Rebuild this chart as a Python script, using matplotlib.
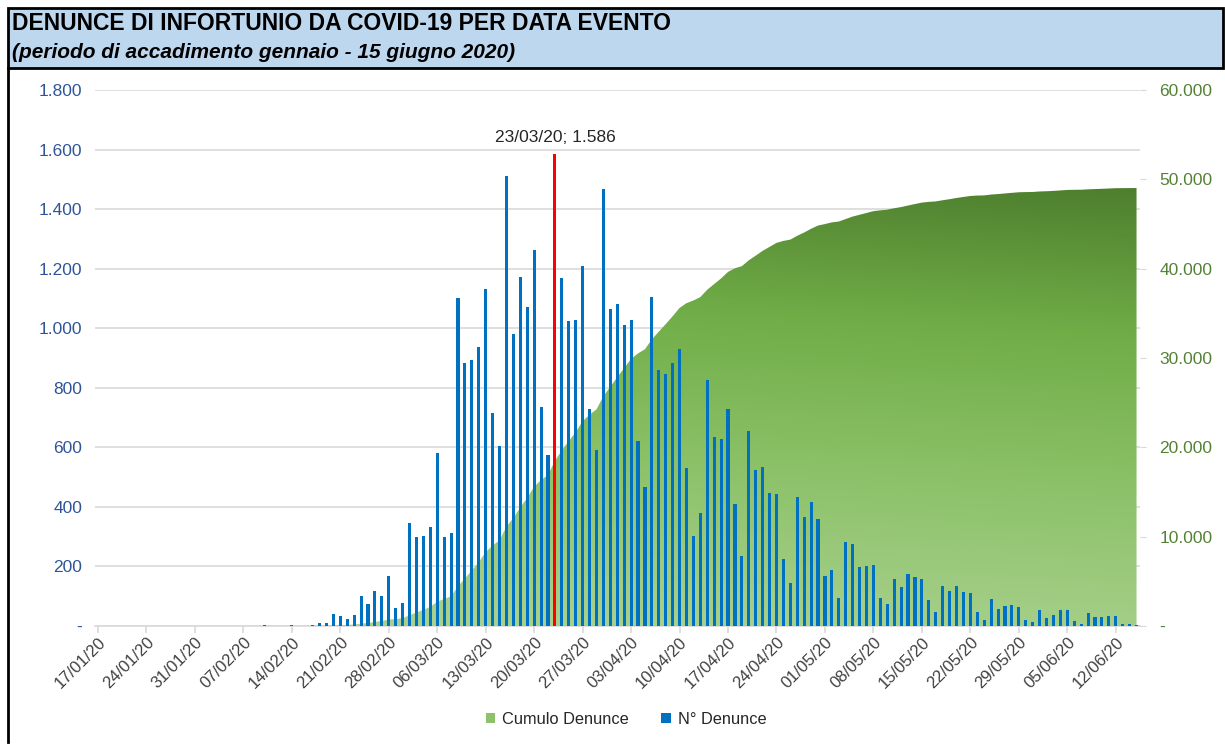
import numpy as np
import pandas as pd
import matplotlib
matplotlib.use("Agg")
import matplotlib.pyplot as plt
from matplotlib.patches import Rectangle, Patch
from matplotlib.lines import Line2D
from matplotlib.colors import LinearSegmentedColormap
from matplotlib.ticker import FuncFormatter, MultipleLocator

plt.rcParams['font.family'] = ['Liberation Sans', 'DejaVu Sans']

# daily reports, 17/01/20 .. 15/06/20
start_date = "2020-01-17"
n_denunce = [0] * 24 + [3, 0, 0, 0, 3, 0, 0,
    5, 10, 10, 40, 34, 23, 37, 101, 74, 118, 101, 168, 60, 77,
    346, 299, 302, 333, 581, 299, 313, 1101, 883, 893, 937, 1132, 715, 604,
    1511, 981, 1172, 1071, 1263, 735, 574, 1586, 1169, 1023, 1027, 1209, 729, 591,
    1467, 1064, 1081, 1011, 1027, 621, 467, 1105, 860, 846, 883, 930, 531, 302,
    379, 826, 635, 628, 729, 410, 235, 655, 524, 534, 447, 443, 225, 144,
    433, 366, 416, 359, 168, 188, 94, 282, 275, 198, 201, 205, 94, 74,
    158, 131, 175, 165, 158, 87, 47, 134, 118, 134, 114, 111, 47, 20,
    91, 57, 67, 70, 64, 20, 13, 54, 27, 37, 54, 54, 17, 7,
    44, 30, 30, 34, 34, 7, 7, 3]
peak_label = "23/03/20; 1.586"
peak_date = "2020-03-23"

dates = pd.date_range(start_date, periods=len(n_denunce), freq="D")
vals = np.array(n_denunce)
cumulo = np.cumsum(vals)
days = np.arange(len(vals))
peak_idx = int((pd.Timestamp(peak_date) - dates[0]).days)


def fmt_it(v, pos=None):
    if v == 0:
        return "-"
    return "{:,.0f}".format(v).replace(",", ".")


fig = plt.figure(figsize=(12.25, 7.46), dpi=100)
W, H = 1225, 746

# title band and frame
fig.patches.append(Rectangle((8 / W, 1 - 68 / H), 1215 / W, 60 / H, transform=fig.transFigure,
                             facecolor="#BDD7EE", edgecolor="black", linewidth=2))
fig.lines.append(Line2D([8 / W, 8 / W], [1 - 68 / H, 1 - 742 / H], transform=fig.transFigure,
                        color="black", linewidth=2))
fig.text(12 / W, 1 - 23 / H, "DENUNCE DI INFORTUNIO DA COVID-19 PER DATA EVENTO",
         fontsize=16.5, fontweight="bold", va="center", ha="left")
fig.text(12 / W, 1 - 52 / H, "(periodo di accadimento gennaio - 15 giugno 2020)",
         fontsize=15, fontweight="bold", style="italic", va="center", ha="left")

rect = [94.5 / W, 120 / H, (1140 - 94.5) / W, (626 - 90) / H]
ax = fig.add_axes(rect)
ax2 = ax.twinx()
axb = fig.add_axes(rect, sharex=ax, sharey=ax)
ax.set_zorder(0)
ax2.set_zorder(1)
axb.set_zorder(2)
for a in (ax, ax2, axb):
    a.patch.set_visible(False)
    for s in a.spines.values():
        s.set_visible(False)

xmin, xmax = -0.5, len(vals) - 0.5
ax.set_xlim(xmin, xmax)
ax.set_ylim(0, 1800)
ax2.set_ylim(0, 60000)

# gridlines and left axis
ax.yaxis.set_major_locator(MultipleLocator(200))
ax.yaxis.set_major_formatter(FuncFormatter(fmt_it))
ax.grid(axis="y", color="#D9D9D9", linewidth=1.2)
ax.tick_params(axis="y", length=0, labelsize=12.5, labelcolor="#2F5597", pad=9)
ax.spines["bottom"].set_visible(True)
ax.spines["bottom"].set_color("#D9D9D9")
ax.spines["bottom"].set_linewidth(1.2)

tick_pos = days[::7]
ax.set_xticks(tick_pos)
ax.set_xticklabels([d.strftime("%d/%m/%y") for d in dates[::7]], rotation=45,
                   ha="right", rotation_mode="anchor")
ax.tick_params(axis="x", length=5, color="#D9D9D9", width=1.2, labelsize=12,
               labelcolor="#404040", pad=1)

# right axis
ax2.yaxis.set_major_locator(MultipleLocator(10000))
ax2.yaxis.set_major_formatter(FuncFormatter(fmt_it))
ax2.tick_params(axis="y", length=4, color="#D9D9D9", labelsize=12.5, labelcolor="#548235", pad=10)

# cumulative area with gradient
poly = ax2.fill_between(days, cumulo, color="none", linewidth=0)
gx = np.linspace(0, 1, 200)
gy = np.linspace(0, 1, 200)
GX, GY = np.meshgrid(gx, gy)
grad = np.clip(0.9 * GY / 0.82 + 0.12 * GX - 0.05, 0, 1)
cmap = LinearSegmentedColormap.from_list("g", ["#A9D18E", "#8DC26A", "#70AD47", "#4A7A2B"])
im = ax2.imshow(grad, extent=[xmin, xmax, 0, 60000], origin="lower", aspect="auto",
                cmap=cmap, vmin=0, vmax=1, interpolation="bilinear")
im.set_clip_path(poly.get_paths()[0], transform=ax2.transData)

# bars
colors = ["#0070C0"] * len(vals)
colors[peak_idx] = "#FF0000"
axb.bar(days, vals, width=0.45, color=colors, linewidth=0)
axb.axis("off")
axb.text(peak_idx, vals[peak_idx] + 28, peak_label, ha="center", va="bottom",
         fontsize=12.5, color="#262626")

handles = [Patch(facecolor="#8DC26A", edgecolor="none"), Patch(facecolor="#0070C0", edgecolor="none")]
fig.legend(handles, ["Cumulo Denunce", "N° Denunce"], loc="center", bbox_to_anchor=(626 / W, 27 / H),
           ncol=2, frameon=False, fontsize=11.8, handlelength=0.6, handleheight=0.6,
           handletextpad=0.4, columnspacing=2.0, labelcolor="#262626")

fig.savefig("out.png", dpi=100)
